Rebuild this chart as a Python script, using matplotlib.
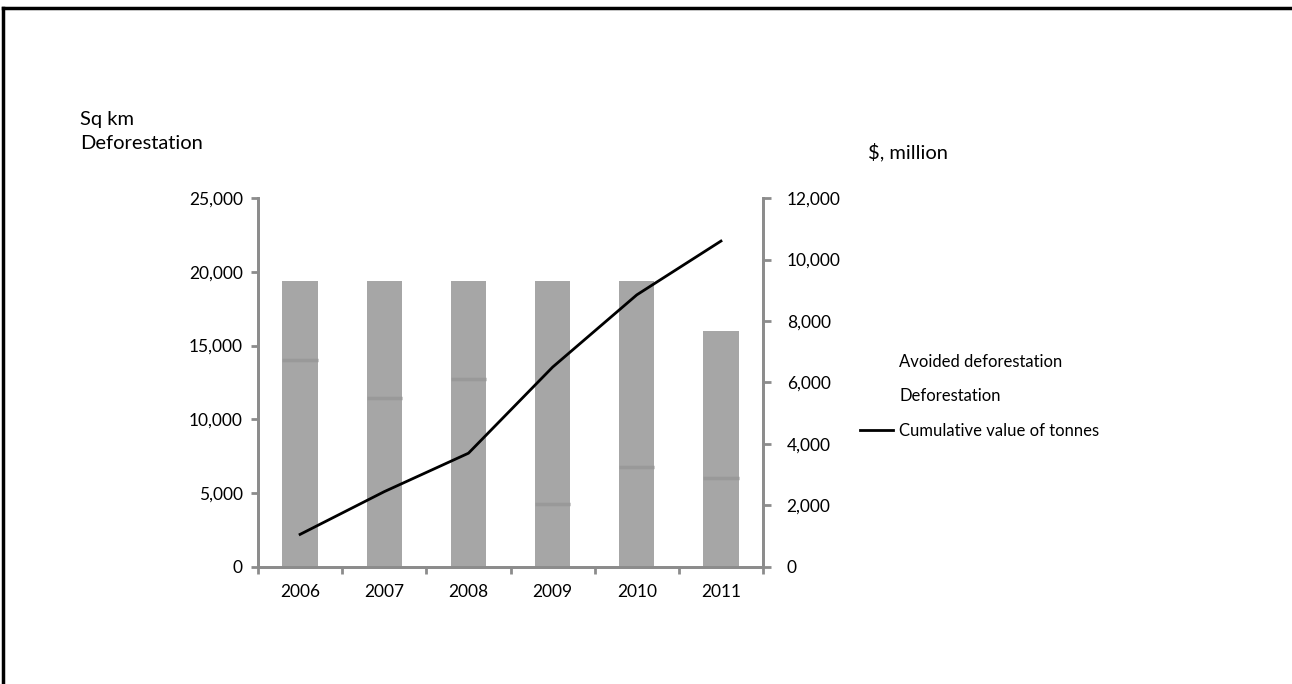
import matplotlib
matplotlib.use("Agg")
import matplotlib.pyplot as plt
from matplotlib.lines import Line2D
from matplotlib.patches import Patch
from matplotlib.ticker import FuncFormatter, FixedLocator
import numpy as np

# data
years = ["2006", "2007", "2008", "2009", "2010", "2011"]
deforestation = [14000, 11450, 12750, 4300, 6800, 6050]       # sq km
total_area = [19400, 19400, 19400, 19400, 19400, 16000]        # deforestation + avoided
avoided = [t - d for t, d in zip(total_area, deforestation)]
cumulative_value = [1060, 2450, 3700, 6500, 8850, 10600]       # $ million

plt.rcParams['font.family'] = ['Lato', 'DejaVu Sans']
axis_grey = '#8c8c8c'
bar_grey = '#a6a6a6'

fig = plt.figure(figsize=(12.92, 6.84), dpi=100)
ax = fig.add_axes([0.1997, 0.1711, 0.3909, 0.5394])
ax2 = ax.twinx()

x = np.arange(len(years))
w = 0.42
ax.bar(x, deforestation, w, color=bar_grey, linewidth=0, label='Deforestation')
ax.bar(x, avoided, w, bottom=deforestation, color=bar_grey, linewidth=0,
       label='Avoided deforestation')
# faint seam between the two stacked parts
ax.hlines(deforestation, x - w / 2, x + w / 2, color='#999999', linewidth=2.5)

ax2.plot(x, cumulative_value, color='black', linewidth=2)

# left axis
ax.set_xlim(-0.5, len(years) - 0.5)
ax.set_ylim(0, 25000)
ax.set_yticks(range(0, 25001, 5000))
ax.yaxis.set_major_formatter(FuncFormatter(lambda v, p: f'{int(v):,}'))
ax.set_xticks(x)
ax.set_xticklabels(years)
ax.tick_params(axis='x', length=0, pad=12)
ax.xaxis.set_minor_locator(FixedLocator(np.arange(-0.5, len(years), 1.0)))
ax.tick_params(axis='x', which='minor', length=5, width=2, color=axis_grey)
ax.tick_params(axis='y', length=5, width=2, color=axis_grey, pad=6)

# right axis
ax2.set_ylim(0, 12000)
ax2.set_yticks(range(0, 12001, 2000))
ax2.yaxis.set_major_formatter(FuncFormatter(lambda v, p: f'{int(v):,}'))
ax2.tick_params(axis='y', length=6, width=2, color=axis_grey, pad=11)

for a in (ax, ax2):
    a.spines['top'].set_visible(False)
    for side in ('left', 'right', 'bottom'):
        a.spines[side].set_color(axis_grey)
        a.spines[side].set_linewidth(2)
    for lab in a.get_xticklabels() + a.get_yticklabels():
        lab.set_fontsize(12.5)

# axis titles
fig.text(80 / 1292, 1 - 125 / 684, 'Sq km', fontsize=14.5, va='baseline')
fig.text(80 / 1292, 1 - 149 / 684, 'Deforestation', fontsize=14.5, va='baseline')
fig.text(868 / 1292, 1 - 158 / 684, '$, million', fontsize=14.5, va='baseline')

# legend (bar swatches are blank in the original)
handles = [Patch(facecolor='none', edgecolor='none'),
           Patch(facecolor='none', edgecolor='none'),
           Line2D([0], [0], color='black', linewidth=2)]
labels = ['Avoided deforestation', 'Deforestation', 'Cumulative value of tonnes']
fig.legend(handles, labels, loc='upper left', bbox_to_anchor=(860 / 1292, 1 - 354 / 684),
           frameon=False, fontsize=12, handlelength=2.0, handletextpad=0.36,
           labelspacing=1.1, borderpad=0, borderaxespad=0)

# outer frame
fig.add_artist(Line2D([3 / 1292, 1], [1 - 8 / 684, 1 - 8 / 684], color='black',
                      linewidth=2.5, transform=fig.transFigure))
fig.add_artist(Line2D([3 / 1292, 3 / 1292], [0, 1 - 8 / 684], color='black',
                      linewidth=2.5, transform=fig.transFigure))

fig.savefig('out.png', dpi=100)
